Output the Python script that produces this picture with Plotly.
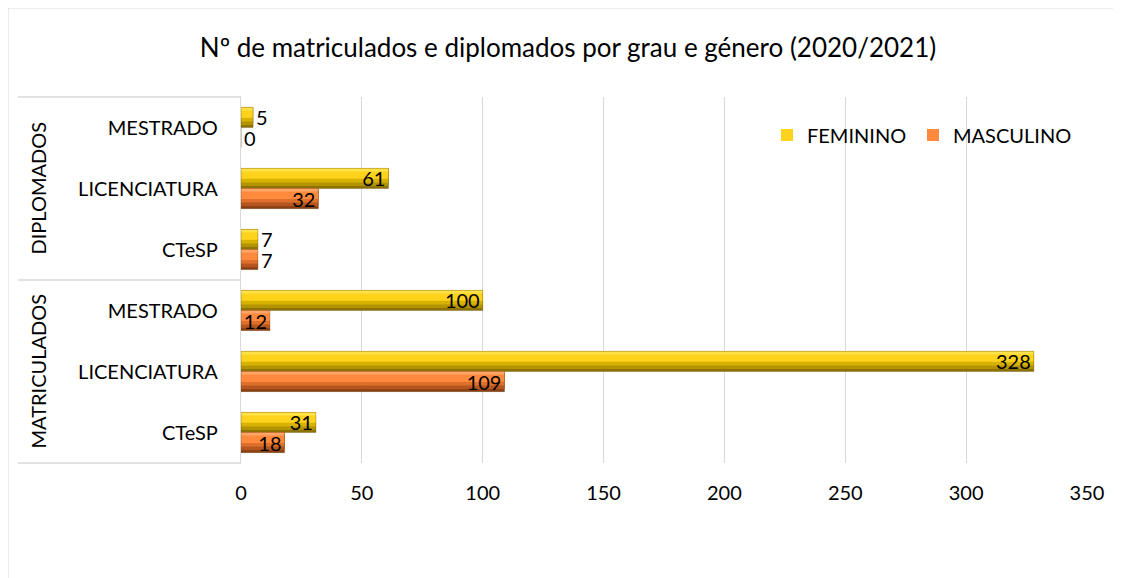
import plotly.graph_objects as go

# ---- data ----
groups = ["MATRICULADOS", "MATRICULADOS", "MATRICULADOS", "DIPLOMADOS", "DIPLOMADOS", "DIPLOMADOS"]
degrees = ["CTeSP", "LICENCIATURA", "MESTRADO", "CTeSP", "LICENCIATURA", "MESTRADO"]
feminino = [31, 328, 100, 7, 61, 5]
masculino = [18, 109, 12, 7, 32, 0]
x_ticks = [0, 50, 100, 150, 200, 250, 300, 350]
title_text = "Nº de matriculados e diplomados por grau e género (2020/2021)"

cats = [f"{g} | {d}" for g, d in zip(groups, degrees)]

FONT = "Lato"
BAR_W = 0.33

# layered gradient (start fraction from bottom -> top of bar, colour), drawn in order
fem_layers = [(0.00, "#8C7200"), (0.12, "#B39400"), (0.30, "#D8B200"),
              (0.48, "#FFD21C"), (0.85, "#FFE24A")]
mas_layers = [(0.00, "#8A3E12"), (0.12, "#B55620"), (0.30, "#DE702C"),
              (0.48, "#FF8A3D"), (0.85, "#FFA567")]

# page has an 8px body margin: figure placed at (8, 8) in the window
OFF = 8
W, H = 1121 - OFF, 578 - OFF
# plot area in window pixels
PL, PR, PT, PB = 241, 1087, 97, 463
L, T = PL - OFF, PT - OFF
R, B = W - (PR - OFF), H - (PB - OFF)
pw, ph = PR - PL, PB - PT


def px(xpix):
    return (xpix - PL) / pw


def py(ypix):
    return (PB - ypix) / ph


fig = go.Figure()


def add_series(name, vals, layers, base_off, legend_idx, legend_id):
    for i, (f0, col) in enumerate(layers):
        fig.add_trace(go.Bar(
            y=cats, x=vals, orientation="h",
            offset=base_off + f0 * BAR_W, width=(1 - f0) * BAR_W,
            marker=dict(color=col, line=dict(width=0)),
            name=name, legendgroup=name, legend=legend_id,
            showlegend=(i == legend_idx),
            hoverinfo="skip",
        ))
    positions = ["inside" if v >= 10 else "outside" for v in vals]
    fig.add_trace(go.Bar(
        y=cats, x=vals, orientation="h",
        offset=base_off, width=BAR_W,
        marker=dict(color="rgba(0,0,0,0)", line=dict(width=0.6, color="rgba(90,60,0,0.5)")),
        text=[str(v) for v in vals], textposition=positions, textangle=0,
        insidetextanchor="end", constraintext="none",
        textfont=dict(family=FONT, size=20, color="#000000"),
        cliponaxis=False,
        name=name, legendgroup=name, legend=legend_id, showlegend=False,
    ))


add_series("FEMININO", feminino, fem_layers, 0.0, 3, "legend")
add_series("MASCULINO", masculino, mas_layers, -BAR_W, 3, "legend2")

shapes = [
    dict(type="rect", xref="paper", yref="paper", x0=px(8), x1=px(1119), y0=py(600), y1=py(8),
         line=dict(color="#D9D9D9", width=1), layer="below"),
]
for yy in [0, 0.5, 1]:
    shapes.append(dict(type="line", xref="paper", yref="paper", x0=px(18), x1=0, y0=yy, y1=yy,
                       line=dict(color="#D9D9D9", width=1.3)))

annotations = [
    dict(text="DIPLOMADOS", textangle=-90, xref="paper", yref="paper", x=px(37), y=0.75,
         xanchor="center", yanchor="middle",
         showarrow=False, font=dict(family=FONT, size=20, color="#000000")),
    dict(text="MATRICULADOS", textangle=-90, xref="paper", yref="paper", x=px(37), y=0.25,
         xanchor="center", yanchor="middle",
         showarrow=False, font=dict(family=FONT, size=20, color="#000000")),
]

legend_common = dict(orientation="h", xanchor="left", yanchor="middle", y=py(135),
                     font=dict(family=FONT, size=20, color="#000000"), bgcolor="rgba(0,0,0,0)")

fig.update_layout(
    width=W, height=H,
    barmode="overlay",
    paper_bgcolor="white", plot_bgcolor="white",
    margin=dict(l=L, r=R, t=T, b=B, autoexpand=False),
    title=dict(text=title_text, x=(568 - OFF) / W, xanchor="center", y=1 - (48 - OFF) / H,
               yanchor="middle", font=dict(family=FONT, size=26, color="#000000")),
    font=dict(family=FONT, size=20, color="#000000"),
    xaxis=dict(range=[0, 350], tickvals=x_ticks, showgrid=True, gridcolor="#D9D9D9", gridwidth=1.3,
               zeroline=False, showline=False, ticks="", ticklabelstandoff=16,
               tickfont=dict(family=FONT, size=20, color="#000000"), fixedrange=True),
    yaxis=dict(categoryorder="array", categoryarray=cats, tickvals=cats, ticktext=degrees,
               range=[-0.5, 5.5], showgrid=False, showline=True, linecolor="#D9D9D9", linewidth=1.3,
               ticks="", ticklabelstandoff=18, zeroline=False,
               tickfont=dict(family=FONT, size=20, color="#000000"), fixedrange=True),
    legend=dict(x=px(767), **legend_common),
    legend2=dict(x=px(913), **legend_common),
    shapes=shapes,
    annotations=annotations,
    showlegend=True,
)

fig.write_html("out.html")
